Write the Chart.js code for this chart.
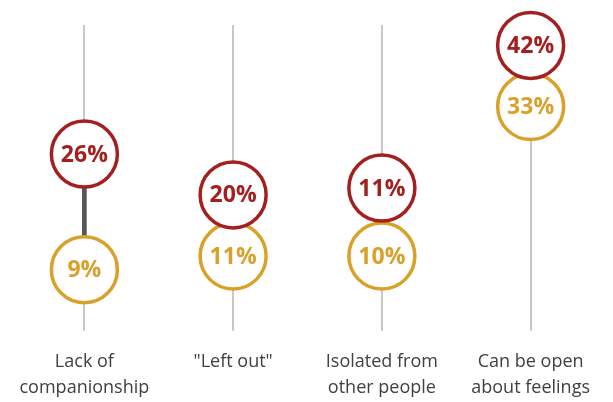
<!DOCTYPE html>
<html>
<head>
<meta charset="utf-8">
<script src="https://cdn.jsdelivr.net/npm/chart.js@4"></script>
<style>
  html, body { margin: 0; padding: 0; background: #fff; }
  #wrap { width: 613px; height: 402px; position: relative; }
</style>
</head>
<body>
<div id="wrap"><canvas id="chart"></canvas></div>
<script>
// Categories (multi-line labels)
const categories = [
    ['Lack of', 'companionship'],
    ['"Left out"'],
    ['Isolated from', 'other people'],
    ['Can be open', 'about feelings']
];

// Shown values (labels inside the circles)
const redValues = [26, 20, 11, 42];
const goldValues = [9, 11, 10, 33];

// Where the circles sit on the 0–45 scale (third pair is nudged apart in the original)
const redPositions = [26, 20, 21, 42];
const goldPositions = [9, 11, 11, 33];

const RED = '#a3201f';
const GOLD = '#d9a12a';

// Draw the percentage text inside each circle
const circleLabels = {
    id: 'circleLabels',
    afterDatasetsDraw(chart) {
        const ctx = chart.ctx;
        ctx.save();
        ctx.font = 'bold 23px "Open Sans", sans-serif';
        ctx.textAlign = 'center';
        ctx.textBaseline = 'middle';
        chart.data.datasets.forEach((ds, di) => {
            if (!ds.valueLabels) return;
            chart.getDatasetMeta(di).data.forEach((pt, i) => {
                ctx.fillStyle = ds.borderColor;
                ctx.fillText(ds.valueLabels[i] + '%', pt.x, pt.y + 1);
            });
        });
        ctx.restore();
    }
};

new Chart(document.getElementById('chart'), {
    data: {
        labels: categories,
        datasets: [
            {
                type: 'bar',
                data: redPositions.map((r, i) => [goldPositions[i], r]),
                backgroundColor: '#555555',
                barThickness: 4,
                order: 3
            },
            {
                type: 'line',
                data: goldPositions,
                valueLabels: goldValues,
                showLine: false,
                borderColor: GOLD,
                pointRadius: 33,
                pointHoverRadius: 33,
                pointBorderWidth: 3.5,
                pointBackgroundColor: '#fff',
                pointBorderColor: GOLD,
                clip: false,
                order: 2
            },
            {
                type: 'line',
                data: redPositions,
                valueLabels: redValues,
                showLine: false,
                borderColor: RED,
                pointRadius: 33,
                pointHoverRadius: 33,
                pointBorderWidth: 3.5,
                pointBackgroundColor: '#fff',
                pointBorderColor: RED,
                clip: false,
                order: 1
            }
        ]
    },
    options: {
        responsive: true,
        maintainAspectRatio: false,
        animation: false,
        layout: { autoPadding: false, padding: { top: 25, left: 10, right: 8, bottom: -9 } },
        plugins: {
            legend: { display: false },
            tooltip: { enabled: false }
        },
        scales: {
            x: {
                grid: { display: false },
                border: { display: false },
                ticks: {
                    color: '#404040',
                    padding: 10,
                    font: { family: 'Open Sans', size: 18, lineHeight: 1.45 },
                    maxRotation: 0,
                    autoSkip: false
                }
            },
            y: {
                min: 0,
                max: 45,
                display: false
            }
        }
    },
    plugins: [circleLabels, {
        // Gray vertical guide at each category, from 0 to 45
        id: 'guides',
        beforeDatasetsDraw(chart) {
            const ctx = chart.ctx;
            const x = chart.scales.x, y = chart.scales.y;
            ctx.save();
            ctx.strokeStyle = '#c8c8c8';
            ctx.lineWidth = 2;
            categories.forEach((c, i) => {
                const px = Math.round(x.getPixelForValue(i));
                ctx.beginPath();
                ctx.moveTo(px, y.getPixelForValue(45));
                ctx.lineTo(px, y.getPixelForValue(0));
                ctx.stroke();
            });
            ctx.restore();
        }
    }]
});
</script>
</body>
</html>
